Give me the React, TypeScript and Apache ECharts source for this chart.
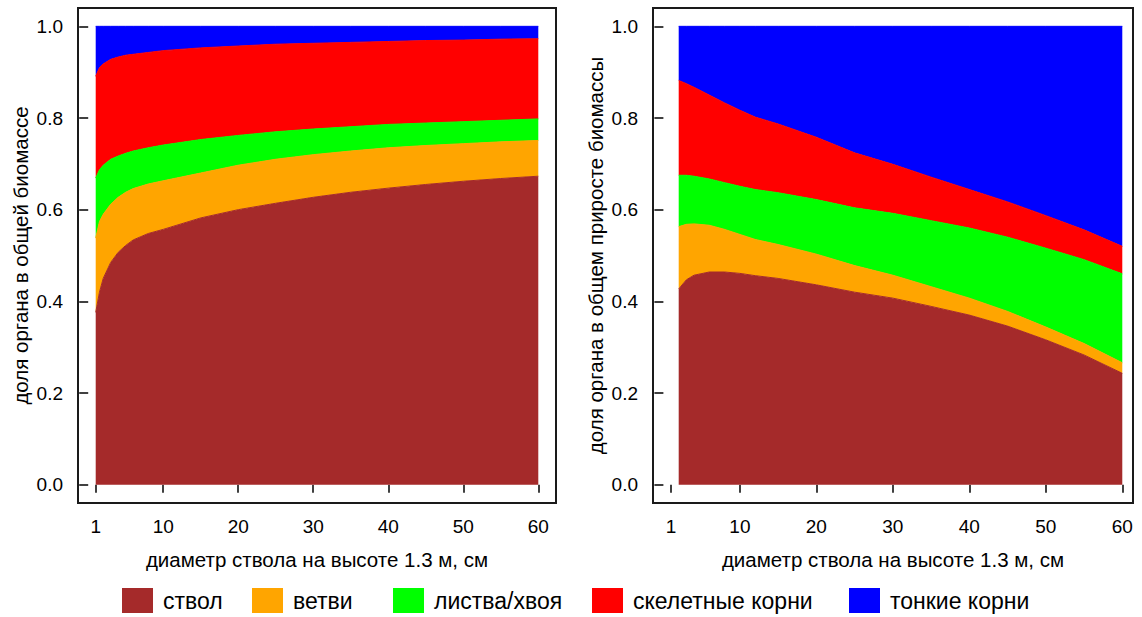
import React, { useEffect, useRef } from "react";
import * as echarts from "echarts";

// ---- data ----
const seriesNames = ["ствол", "ветви", "листва/хвоя", "скелетные корни", "тонкие корни"];
const seriesColors = ["#A52A2A", "#FFA500", "#00FF00", "#FF0000", "#0000FF"];

const xTickValues = [1, 10, 20, 30, 40, 50, 60];
const yTickValues = [0, 0.2, 0.4, 0.6, 0.8, 1.0];

// left panel: share of organ in total biomass
const xLeft = [1, 1.5, 2, 3, 4, 5, 6, 8, 10, 15, 20, 25, 30, 35, 40, 45, 50, 55, 60];
const stemLeft = [0.376, 0.420, 0.450, 0.485, 0.507, 0.522, 0.534, 0.548, 0.557, 0.582, 0.600, 0.614, 0.627, 0.638, 0.647, 0.655, 0.662, 0.668, 0.673];
const branchLeft = [0.162, 0.154, 0.140, 0.127, 0.120, 0.116, 0.112, 0.108, 0.106, 0.098, 0.097, 0.096, 0.093, 0.090, 0.088, 0.085, 0.082, 0.080, 0.078];
const foliageLeft = [0.131, 0.113, 0.107, 0.098, 0.090, 0.085, 0.082, 0.079, 0.078, 0.073, 0.065, 0.060, 0.056, 0.053, 0.051, 0.049, 0.048, 0.047, 0.047];
const coarseLeft = [0.222, 0.223, 0.221, 0.218, 0.216, 0.214, 0.211, 0.208, 0.206, 0.200, 0.195, 0.191, 0.187, 0.184, 0.181, 0.180, 0.178, 0.177, 0.175];
const fineLeft = [0.109, 0.090, 0.082, 0.072, 0.067, 0.063, 0.061, 0.057, 0.053, 0.047, 0.043, 0.039, 0.037, 0.035, 0.033, 0.031, 0.030, 0.028, 0.027];

// right panel: share of organ in total biomass increment
const xRight = [2, 3, 4, 6, 8, 10, 12, 15, 20, 25, 30, 35, 40, 45, 50, 55, 60];
const stemRight = [0.427, 0.447, 0.457, 0.464, 0.464, 0.461, 0.456, 0.450, 0.436, 0.420, 0.407, 0.389, 0.370, 0.346, 0.316, 0.283, 0.243];
const branchRight = [0.136, 0.121, 0.112, 0.102, 0.093, 0.085, 0.079, 0.074, 0.067, 0.058, 0.050, 0.043, 0.037, 0.032, 0.028, 0.025, 0.023];
const foliageRight = [0.112, 0.107, 0.104, 0.101, 0.102, 0.105, 0.109, 0.113, 0.119, 0.126, 0.135, 0.144, 0.153, 0.162, 0.172, 0.183, 0.194];
const coarseRight = [0.207, 0.200, 0.194, 0.183, 0.174, 0.166, 0.158, 0.150, 0.136, 0.120, 0.107, 0.095, 0.084, 0.077, 0.071, 0.065, 0.060];
const fineRight = [0.118, 0.125, 0.133, 0.150, 0.167, 0.183, 0.198, 0.213, 0.242, 0.276, 0.301, 0.329, 0.356, 0.383, 0.413, 0.444, 0.480];

const xTitle = "диаметр ствола на высоте 1.3 м, см";
const yTitleLeft = "доля органа в общей биомассе";
const yTitleRight = "доля органа в общем приросте биомассы";

const FONT = "'Liberation Sans', Arial, Helvetica, sans-serif";
const FS_TICK = 19;
const FS_TITLE = 20.5;
const FS_LEGEND = 23;

function makeSeries(xs: number[], cols: number[][], axisIndex: number, stack: string) {
  return cols.map((vals, i) => ({
    type: "line",
    name: seriesNames[i],
    xAxisIndex: axisIndex,
    yAxisIndex: axisIndex,
    stack,
    smooth: false,
    showSymbol: false,
    symbol: "none",
    silent: true,
    // value first so that stacking happens on the y value
    encode: { x: 1, y: 0 },
    itemStyle: { color: seriesColors[i] },
    lineStyle: { color: seriesColors[i], width: 1 },
    areaStyle: { color: seriesColors[i], opacity: 1 },
    data: xs.map((x, j) => [vals[j], x]),
  }));
}

function xAxisCfg(gridIndex: number, max: number) {
  return {
    type: "value",
    gridIndex,
    min: -1.36,
    max,
    name: xTitle,
    nameLocation: "middle",
    nameGap: 46,
    nameTextStyle: { fontSize: FS_TITLE, color: "#000", fontFamily: FONT },
    axisLine: { show: false },
    splitLine: { show: false },
    axisTick: {
      show: true,
      inside: false,
      length: 8,
      customValues: xTickValues,
      lineStyle: { color: "#000", width: 1.5 },
    },
    axisLabel: {
      customValues: xTickValues,
      margin: 14,
      fontSize: FS_TICK,
      color: "#000",
      fontFamily: FONT,
    },
  };
}

function yAxisCfg(gridIndex: number, title: string) {
  return {
    type: "value",
    gridIndex,
    min: -0.04,
    max: 1.04,
    name: title,
    nameLocation: "middle",
    nameGap: 47,
    nameTextStyle: { fontSize: FS_TITLE, color: "#000", fontFamily: FONT },
    axisLine: { show: false },
    splitLine: { show: false },
    axisTick: {
      show: true,
      inside: false,
      length: 9,
      customValues: yTickValues,
      lineStyle: { color: "#000", width: 1.5 },
    },
    axisLabel: {
      customValues: yTickValues,
      margin: 15,
      fontSize: FS_TICK,
      color: "#000",
      fontFamily: FONT,
      formatter: (v: number) => v.toFixed(1),
    },
  };
}

const legendLefts = [122, 252, 393, 592, 849];

export default function App() {
  const ref = useRef<HTMLDivElement>(null);
  useEffect(() => {
    document.body.style.margin = "0";
    if (!ref.current) return;
    const chart = echarts.init(ref.current, null, { renderer: "svg" });
    const option = {
      animation: false,
      backgroundColor: "#fff",
      textStyle: { fontFamily: FONT },
      grid: [
        { left: 78, top: 8, width: 478, height: 495, show: true, borderColor: "#1a1a1a", borderWidth: 2, backgroundColor: "transparent" },
        { left: 653, top: 8, width: 480, height: 495, show: true, borderColor: "#1a1a1a", borderWidth: 2, backgroundColor: "transparent" },
      ],
      xAxis: [xAxisCfg(0, 62.36), xAxisCfg(1, 61.4)],
      yAxis: [yAxisCfg(0, yTitleLeft), yAxisCfg(1, yTitleRight)],
      legend: seriesNames.map((n, i) => ({
        left: legendLefts[i],
        top: 588,
        padding: 0,
        icon: "rect",
        itemWidth: 31,
        itemHeight: 25,
        selectedMode: false,
        data: [n],
        textStyle: { fontSize: FS_LEGEND, color: "#000", fontFamily: FONT, padding: [0, 0, 0, 5] },
      })),
      series: [
        ...makeSeries(xLeft, [stemLeft, branchLeft, foliageLeft, coarseLeft, fineLeft], 0, "L"),
        ...makeSeries(xRight, [stemRight, branchRight, foliageRight, coarseRight, fineRight], 1, "R"),
      ],
    };
    chart.setOption(option as any);
    return () => chart.dispose();
  }, []);
  return <div ref={ref} style={{ width: 1142, height: 617 }} />;
}
